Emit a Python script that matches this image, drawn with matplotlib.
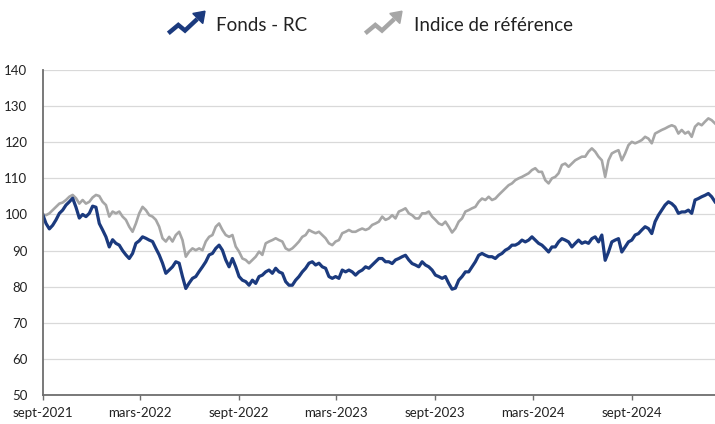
import numpy as np
import pandas as pd
import matplotlib
matplotlib.use("Agg")
import matplotlib.pyplot as plt
from matplotlib.lines import Line2D
from matplotlib.patches import Polygon

plt.rcParams['font.family'] = ['Lato', 'DejaVu Sans']

# values, evenly spaced in time
fonds = [
    100, 97.5, 96, 97, 98.5, 100.3, 101.2, 102.6, 103.5, 104.5,
    102, 99, 100, 99.4, 100.3, 102.3, 102, 97.5, 95.7, 93.8,
    91, 93, 92, 91.5, 90, 88.8, 87.8, 89.2, 92, 92.7,
    93.8, 93.4, 92.9, 92.5, 90.6, 88.8, 86.5, 83.7, 84.6, 85.5,
    86.9, 86.5, 82.8, 79.5, 81, 82.3, 82.8, 84.2, 85.5, 86.9, 88.8,
    89.2, 90.6, 91.5, 90.1, 87.4, 85.5, 87.8, 85.5, 82.8, 81.8,
    81.4, 80.4, 81.8, 80.9, 82.8, 83.2, 84.1, 84.6, 83.7, 85.1,
    84.1, 83.7, 81.4, 80.4, 80.4, 81.8, 82.8, 84.1, 85.1, 86.5,
    86.9, 86, 86.5, 85.5, 85.1, 82.8, 82.3, 82.8, 82.3, 84.6,
    84.1, 84.6, 84.1, 83.2, 84.1, 84.6, 85.5, 85.1, 86,
    86.9, 87.8, 87.8, 86.9, 86.9, 86.4, 87.4, 87.8, 88.3, 88.7,
    87.4, 86.4, 86, 85.5, 86.9, 86, 85.5, 84.6, 83.2, 82.8,
    82.3, 82.8, 80.9, 79.3, 79.6, 81.8, 82.8, 84.1, 84.1, 85.5,
    86.9, 88.7, 89.2, 88.7, 88.3, 88.3, 87.8, 88.7, 89.2, 90.1,
    90.6, 91.5, 91.5, 92, 92.9, 92.4, 92.9, 93.8, 92.9, 92, 91.5,
    90.6, 89.6, 91, 91, 92.4, 93.3, 92.9, 92.4, 91, 92,
    92.9, 92, 92.4, 92, 93.3, 93.8, 92.4, 94.3, 87.3, 89.6,
    92.4, 92.9, 93.3, 89.6, 91, 92.4, 92.9, 94.3, 94.7, 95.7,
    96.6, 96.1, 94.7, 98, 99.8, 101.2, 102.6, 103.5, 103, 102.1,
    100.3, 100.7, 100.7, 101.2, 100.3, 104, 104.4, 104.9, 105.3, 105.8,
    104.9, 103.5,
]

indice = [
    100, 99.8, 100.3, 101.2, 102.1, 103, 103.3, 104, 104.9, 105.4,
    104.5, 103, 104, 103, 103.5, 104.7, 105.4, 105.1, 103.5, 102.6,
    99.4, 100.8, 100.3, 100.8, 99.4, 98.5, 96.6, 95.2, 97.5, 100.3,
    102.1, 101.2, 99.8, 99.4, 98.5, 96.6, 93.4, 92.5, 93.8, 92.5,
    94.3, 95.2, 92.9, 88.3, 89.7, 90.6, 90.1, 90.6, 90.1, 92.5, 93.8,
    94.3, 96.6, 97.5, 95.7, 94.3, 93.8, 94.3, 91.1, 89.7, 87.8,
    87.4, 86.5, 87.4, 88.3, 89.7, 88.8, 92, 92.5, 92.9, 93.4,
    92.9, 92.5, 90.6, 90.1, 90.6, 91.5, 92.5, 93.8, 94.3, 95.7,
    95.2, 94.8, 95.2, 94.3, 93.4, 92, 91.5, 92.5, 92.9, 94.8,
    95.2, 95.7, 95.2, 95.2, 95.7, 96.1, 95.7, 96.1, 97.1,
    97.5, 98, 99.4, 98.5, 98.9, 99.8, 98.9, 100.8, 101.2, 101.7,
    100.3, 99.8, 98.9, 98.9, 100.3, 100.3, 100.8, 99.4, 98.5, 97.5,
    97.1, 98, 96.6, 95, 96.1, 98, 98.9, 100.8, 101.2, 101.7,
    102.1, 103.5, 104.4, 104, 104.9, 104, 104.4, 105.4, 106.3, 107.2,
    108.1, 108.6, 109.5, 110, 110.4, 110.9, 111.4, 112.3, 112.8, 111.8, 111.8,
    109.5, 108.6, 110, 110.4, 111.4, 113.7, 114.1, 113.2, 114.1, 115,
    115.5, 116, 116, 117.4, 118.3, 117.4, 116, 115, 110.4, 115,
    116.9, 117.4, 117.8, 115, 116.9, 119.2, 120.1, 119.7, 120.1, 120.6,
    121.5, 121, 119.7, 122.4, 122.9, 123.4, 123.8, 124.3, 124.7, 124.3,
    122.4, 123.4, 122.4, 122.9, 121.5, 124.3, 125.2, 124.7, 125.7, 126.6,
    126.1, 125.2,
]

dates = pd.date_range("2021-09-01", "2025-02-03", periods=len(fonds))

tick_dates = pd.to_datetime(["2021-09-01", "2022-03-01", "2022-09-01", "2023-03-01",
                             "2023-09-01", "2024-03-01", "2024-09-01"])
tick_labels = ["sept-2021", "mars-2022", "sept-2022", "mars-2023",
               "sept-2023", "mars-2024", "sept-2024"]
y_ticks = [50, 60, 70, 80, 90, 100, 110, 120, 130, 140]

names = ["Fonds - RC", "Indice de référence"]
navy = "#1b3a7e"
grey = "#a6a6a6"

W, H = 715, 424
fig = plt.figure(figsize=(W / 100, H / 100), dpi=100)
ax = fig.add_axes([42.7 / W, 1 - 395 / H, (W - 42.7) / W, (395 - 70) / H])

ax.plot(dates, indice, color=grey, lw=1.9, solid_joinstyle="round")
ax.plot(dates, fonds, color=navy, lw=2.3, solid_joinstyle="round")

ax.set_xlim(dates[0], dates[-1])
ax.set_ylim(50, 140)
ax.set_yticks(y_ticks)
ax.set_xticks(tick_dates)
ax.set_xticklabels(tick_labels)
ax.grid(axis="y", color="#d9d9d9", lw=0.9)
ax.set_axisbelow(True)

for s in ["top", "right"]:
    ax.spines[s].set_visible(False)
for s in ["left", "bottom"]:
    ax.spines[s].set_color("#6e6e6e")
    ax.spines[s].set_linewidth(1.3)

ax.tick_params(axis="y", length=0, pad=11, labelsize=9.5, labelcolor="#222222")
ax.tick_params(axis="x", direction="out", length=3.5, width=1, color="#6e6e6e",
               pad=5, labelsize=9.5, labelcolor="#222222")


def px(x, y):
    return x / W, 1 - y / H


def trend_icon(x0, color):
    # zig-zag "trending up" arrow used as legend marker
    pts = [(x0, 33.3), (x0 + 10, 25), (x0 + 16.7, 30.5), (x0 + 29, 19)]
    xs, ys = zip(*[px(*p) for p in pts])
    fig.add_artist(Line2D(xs, ys, color=color, lw=3.2, transform=fig.transFigure,
                          solid_joinstyle="miter", solid_capstyle="butt"))
    head = [px(x0 + 36.7, 11.2), px(x0 + 24.5, 13.5), px(x0 + 34.5, 23.5)]
    fig.add_artist(Polygon(head, closed=True, color=color, transform=fig.transFigure))


trend_icon(168.3, navy)
fig.text(*px(216, 25.5), names[0], fontsize=13.5, va="center", ha="left", color="#222222")
trend_icon(365.3, grey)
fig.text(*px(414, 25.5), names[1], fontsize=13.5, va="center", ha="left", color="#222222")

fig.savefig("out.png", dpi=100)
